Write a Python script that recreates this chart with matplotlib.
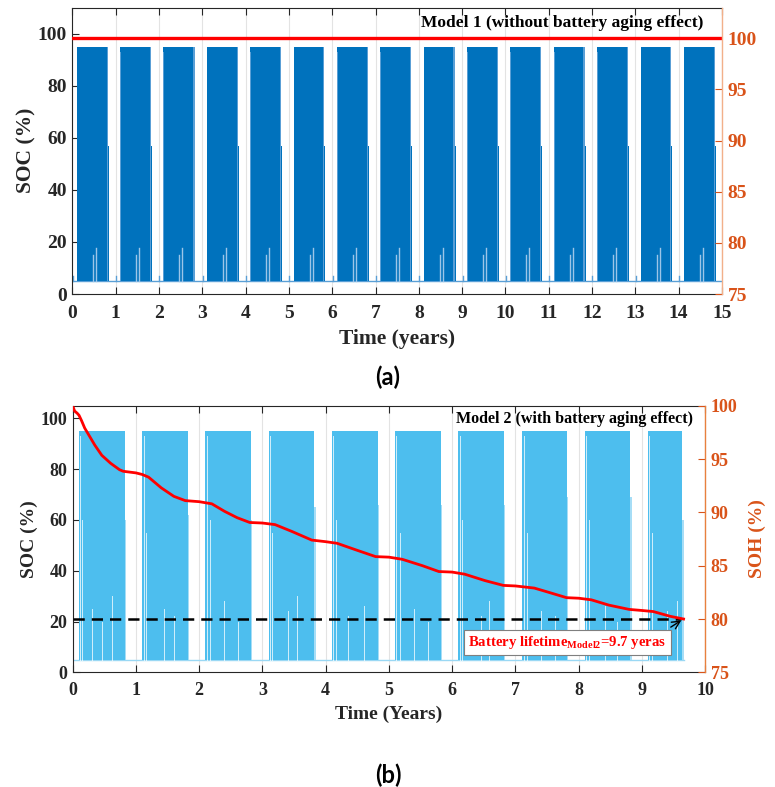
import matplotlib
matplotlib.use("Agg")
import matplotlib.pyplot as plt

# ---------------- data ----------------
# Panel (a): Model 1, 15 years
years_a = [0, 1, 2, 3, 4, 5, 6, 7, 8, 9, 10, 11, 12, 13, 14, 15]
soc_a_start = [0.10, 1.10, 2.10, 3.10, 4.10, 5.11, 6.11, 7.11, 8.11, 9.11, 10.11, 11.12, 12.12, 13.12, 14.12]
soc_a_end = [0.85, 1.84, 2.84, 3.84, 4.84, 5.84, 6.85, 7.85, 8.85, 9.85, 10.85, 11.85, 12.85, 13.85, 14.86]
soc_a_spike_h = [57, 57, 57, 57, 57, 57, 57, 57, 57, 57, 57, 57, 57, 57, 57]
soc_a_low1_t = [0.47, 1.47, 2.47, 3.47, 4.47, 5.48, 6.48, 7.48, 8.48, 9.48, 10.48, 11.49, 12.49, 13.49, 14.49]
soc_a_low2_t = [0.54, 1.54, 2.54, 3.54, 4.54, 5.55, 6.55, 7.55, 8.55, 9.55, 10.55, 11.56, 12.56, 13.56, 14.56]
soc_a_low1_h = 15
soc_a_low2_h = 17.5
bump_a_t = [0.01, 1.01, 2.01, 3.01, 4.01, 5.01, 6.01, 7.01, 8.01, 9.01, 10.01, 11.01, 12.01, 13.01, 14.01]
bump_a_h = 7
soc_high = 95
soc_low = 5
soh_a_t = [0, 15]
soh_a = [100, 100]

# Panel (b): Model 2, until end of life
soc_b_start = [0.10, 1.10, 2.10, 3.10, 4.10, 5.10, 6.10, 7.10, 8.10, 9.10]
soc_b_end = [0.84, 1.84, 2.84, 3.84, 4.84, 5.84, 6.84, 7.84, 8.84, 9.66]
soc_b_spike_h = [60, 62, 60, 65, 66, 66, 66, 69, 69, 60]
streak_b_t = [0.12, 0.15, 0.30, 0.47, 0.62, 1.12, 1.16, 1.45, 1.60, 2.12, 2.17, 2.40, 2.62,
              3.12, 3.15, 3.40, 3.55, 4.12, 4.16, 4.35, 4.60, 5.12, 5.18, 5.40, 5.62,
              6.13, 6.16, 6.45, 6.58, 7.13, 7.18, 7.40, 7.62, 8.12, 8.16, 8.42, 8.60,
              9.12, 9.16, 9.40, 9.55]
streak_b_top = [93, 60, 25, 20, 30, 93, 55, 25, 22, 93, 60, 28, 20,
                93, 55, 24, 30, 93, 60, 22, 26, 93, 55, 25, 20,
                93, 60, 22, 28, 93, 55, 24, 22, 93, 60, 26, 20,
                93, 55, 24, 28]
soh_b_t = [0.0, 0.03, 0.07, 0.10, 0.14, 0.19, 0.27, 0.35, 0.46, 0.60, 0.74, 0.80, 1.00, 1.10, 1.20,
           1.40, 1.60, 1.78, 2.00, 2.20, 2.40, 2.60, 2.80, 3.00, 3.20, 3.47, 3.78, 4.00, 4.18,
           4.47, 4.79, 5.00, 5.21, 5.53, 5.79, 6.00, 6.20, 6.52, 6.81, 7.00, 7.30, 7.50, 7.81,
           8.00, 8.20, 8.48, 8.80, 9.00, 9.18, 9.45, 9.66]
soh_b = [100.0, 99.5, 99.3, 99.1, 98.6, 97.9, 97.1, 96.3, 95.35, 94.6, 94.0, 93.85, 93.7, 93.55, 93.3,
         92.3, 91.5, 91.1, 91.0, 90.8, 90.1, 89.5, 89.05, 89.0, 88.85, 88.2, 87.4, 87.25, 87.1,
         86.5, 85.85, 85.8, 85.6, 85.0, 84.45, 84.4, 84.2, 83.6, 83.15, 83.1, 82.9, 82.55, 82.0,
         81.95, 81.8, 81.3, 80.9, 80.8, 80.7, 80.25, 80.0]
eol_soh = 80
eol_time = 9.66
lifetime_text = r"Battery lifetime$_{\mathbf{Model2}}$=9.7 yeras"
years_b = [0, 1, 2, 3, 4, 5, 6, 7, 8, 9, 10]

# ---------------- style ----------------
plt.rcParams['font.family'] = ['Liberation Serif', 'DejaVu Serif']
plt.rcParams['font.weight'] = 'bold'
plt.rcParams['mathtext.fontset'] = 'custom'
plt.rcParams['mathtext.rm'] = 'Liberation Serif:bold'
plt.rcParams['mathtext.bf'] = 'Liberation Serif:bold'
plt.rcParams['mathtext.it'] = 'Liberation Serif:bold:italic'

DARK = '#0072BD'
DARK_LIGHT = '#5A9FD6'
LIGHT = '#4DBEEE'
LIGHT_PALE = '#A6DDF6'
ORANGE = '#D95319'
AXC = '#262626'
GRID = '#E3E3E3'

fig = plt.figure(figsize=(7.75, 7.87), dpi=100)


def style_axes(ax, ax2, fs_tick, right_spine_color, xpad):
    for s in ['left', 'bottom', 'top']:
        ax.spines[s].set_color(AXC)
        ax.spines[s].set_linewidth(0.8)
    ax.spines['right'].set_visible(False)
    for s in ['left', 'bottom', 'top']:
        ax2.spines[s].set_visible(False)
    ax2.spines['right'].set_color(right_spine_color)
    ax2.spines['right'].set_linewidth(1.0)
    ax.tick_params(axis='both', direction='in', length=5, width=0.8, colors=AXC,
                   labelsize=fs_tick, top=True, right=False)
    ax.tick_params(axis='x', pad=xpad)
    ax.tick_params(axis='y', pad=4)
    ax2.tick_params(axis='y', direction='in', length=5, width=0.8, colors=ORANGE,
                    labelsize=fs_tick, pad=4)
    for lab in ax.get_xticklabels() + ax.get_yticklabels() + ax2.get_yticklabels():
        lab.set_fontweight('bold')
    ax.grid(axis='x', color=GRID, lw=0.8)
    ax.set_axisbelow(True)


# ---------------- panel (a) ----------------
ax = fig.add_axes([0.0935, 0.6264, 0.838, 0.364])
ax.set_xlim(0, 15)
ax.set_ylim(0, 110)
ax.plot([0, 15], [soc_low, soc_low], color=DARK_LIGHT, lw=1.0, zorder=2)
for s, e, h in zip(soc_a_start, soc_a_end, soc_a_spike_h):
    ax.fill_between([s, e - 0.05], [soc_low, soc_low], [soc_high, soc_high], color=DARK, lw=0, zorder=3)
    ax.fill_between([e - 0.05, e - 0.02], [soc_low, soc_low], [soc_high, soc_high], color=DARK_LIGHT, lw=0, zorder=3)
    ax.fill_between([e - 0.02, e], [soc_low, soc_low], [h, h], color=DARK, lw=0, zorder=3)
    ax.fill_between([s, s + 0.015], [soc_low, soc_low], [soc_high - 2, soc_high - 2], color=DARK_LIGHT, lw=0, zorder=3)
for t in soc_a_low1_t:
    ax.plot([t, t], [soc_low, soc_a_low1_h], color='#9CC5E8', lw=1.0, zorder=4)
for t in soc_a_low2_t:
    ax.plot([t, t], [soc_low, soc_a_low2_h], color='#9CC5E8', lw=1.0, zorder=4)
for t in bump_a_t:
    ax.plot([t, t], [soc_low, bump_a_h], color=DARK_LIGHT, lw=1.0, zorder=2)
ax.set_xticks(years_a)
ax.set_yticks([0, 20, 40, 60, 80, 100])
ax.set_ylabel('SOC (%)', fontsize=15.5, fontweight='bold', color=AXC, labelpad=1)
ax.set_xlabel('Time (years)', fontsize=15.5, fontweight='bold', color=AXC, labelpad=5)
ax.text(0.971, 0.946, 'Model 1 (without battery aging effect)', transform=ax.transAxes,
        ha='right', va='center', fontsize=12.5, fontweight='bold', color='black', zorder=10)

ax2 = ax.twinx()
ax2.set_ylim(75, 103)
ax2.set_yticks([75, 80, 85, 90, 95, 100])
ax2.plot(soh_a_t, soh_a, color='#FF0000', lw=2.4)
style_axes(ax, ax2, 14, '#F2B08A', 8)

# ---------------- panel (b) ----------------
bx = fig.add_axes([0.0938, 0.1457, 0.816, 0.3388])
bx.set_xlim(0, 10)
bx.set_ylim(0, 105)
bx.plot([0, eol_time], [soc_low, soc_low], color='#9AD8F4', lw=1.0, zorder=2)
for s, e, h in zip(soc_b_start, soc_b_end, soc_b_spike_h):
    bx.fill_between([s, e - 0.02], [soc_low, soc_low], [soc_high, soc_high], color=LIGHT, lw=0, zorder=3)
    bx.fill_between([e - 0.02, e], [soc_low, soc_low], [h, h], color=LIGHT_PALE, lw=0, zorder=3)
for t, top in zip(streak_b_t, streak_b_top):
    bx.plot([t, t], [soc_low, top], color='white', lw=0.7, alpha=0.75, zorder=4)
bx.set_xticks(years_b)
bx.set_yticks([0, 20, 40, 60, 80, 100])
bx.set_ylabel('SOC (%)', fontsize=14, fontweight='bold', color=AXC, labelpad=2)
bx.set_xlabel('Time (Years)', fontsize=14, fontweight='bold', color=AXC, labelpad=5)
bx.text(0.981, 0.95, 'Model 2 (with battery aging effect)', transform=bx.transAxes,
        ha='right', va='center', fontsize=11.5, fontweight='bold', color='black', zorder=10)

bx2 = bx.twinx()
bx2.set_ylim(75, 100)
bx2.set_yticks([75, 80, 85, 90, 95, 100])
bx2.plot([0, eol_time - 0.04], [eol_soh, eol_soh], color='black', lw=1.8, ls=(0, (4.5, 2.8)), zorder=5)
bx2.plot(soh_b_t, soh_b, color='#FF0000', lw=2.0, zorder=6)
bx2.set_ylabel('SOH (%)', fontsize=14, fontweight='bold', color=ORANGE, labelpad=8)
bx2.annotate('', xy=(eol_time, eol_soh), xytext=(9.42, 79.1),
             arrowprops=dict(arrowstyle='->', color='black', lw=1.0, mutation_scale=14), zorder=7)
bx2.text(7.82, 77.8, lifetime_text, ha='center', va='center', fontsize=10.6, fontweight='bold',
         color='#FF0000', zorder=8,
         bbox=dict(boxstyle='square,pad=0.3', fc='white', ec='#7F7F7F', lw=0.8))
style_axes(bx, bx2, 13, '#E8803E', 7)

# panel labels
fig.text(388 / 775, 1 - 377 / 787, '(a)', ha='center', va='center', fontsize=17,
         fontweight='bold', family=['Lato', 'DejaVu Sans'])
fig.text(388 / 775, 1 - 775 / 787, '(b)', ha='center', va='center', fontsize=17,
         fontweight='bold', family=['Lato', 'DejaVu Sans'])

fig.savefig('out.png', dpi=100)
